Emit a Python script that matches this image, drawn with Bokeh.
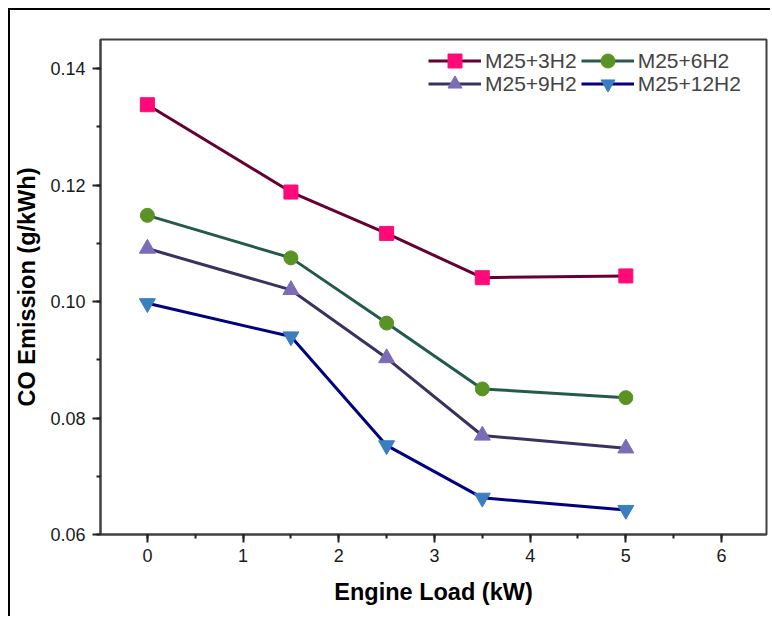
from bokeh.plotting import figure
from bokeh.models import Range1d, FixedTicker, Legend, LegendItem, CustomJSTickFormatter
from bokeh.embed import file_html
from bokeh.resources import INLINE

# ---- data ----
load_kw = [0, 1.5, 2.5, 3.5, 5]
series_names = ["M25+3H2", "M25+6H2", "M25+9H2", "M25+12H2"]
co_3h2 = [0.1338, 0.1188, 0.1117, 0.1041, 0.1044]
co_6h2 = [0.1148, 0.1075, 0.0963, 0.0850, 0.0835]
co_9h2 = [0.1091, 0.1020, 0.0903, 0.0770, 0.0748]
co_12h2 = [0.0997, 0.0940, 0.0753, 0.0663, 0.0642]
x_ticks = [0, 1, 2, 3, 4, 5, 6]
y_ticks = [0.06, 0.08, 0.10, 0.12, 0.14]

FONT = "Liberation Sans"
AXIS_COL = "#404040"

p = figure(width=762, height=608, output_backend="svg", toolbar_location=None,
           x_range=Range1d(-0.49, 6.47), y_range=Range1d(0.06, 0.145),
           min_border_left=90, min_border_right=6, min_border_top=29, min_border_bottom=84)
p.styles = {"margin-left": "8px", "margin-top": "8px",
            "border-left": "2px solid black", "border-top": "2px solid black"}

p.grid.visible = False
p.outline_line_color = AXIS_COL
p.outline_line_width = 2
p.background_fill_color = "white"
p.border_fill_color = "white"

p.xaxis.ticker = FixedTicker(ticks=x_ticks, minor_ticks=[-0.5 + 0.5 * i for i in range(15)])
p.yaxis.ticker = FixedTicker(ticks=y_ticks, minor_ticks=[0.06 + 0.01 * i for i in range(9)])
p.yaxis.formatter = CustomJSTickFormatter(code="return tick.toFixed(2);")

for ax in (p.xaxis[0], p.yaxis[0]):
    ax.axis_line_color = AXIS_COL
    ax.axis_line_width = 2
    ax.major_tick_line_color = "#202020"
    ax.major_tick_line_width = 2
    ax.minor_tick_line_color = "#202020"
    ax.minor_tick_line_width = 2
    ax.major_tick_in = 0
    ax.major_tick_out = 8
    ax.minor_tick_in = 0
    ax.minor_tick_out = 4
    ax.major_label_text_font = FONT
    ax.major_label_text_font_size = "18px"
    ax.major_label_text_color = "#1a1a1a"
    ax.axis_label_text_font = FONT
    ax.axis_label_text_font_size = "23.5px"
    ax.axis_label_text_font_style = "bold"
    ax.axis_label_text_color = "black"

p.xaxis.axis_label = "Engine Load (kW)"
p.yaxis.axis_label = "CO Emission (g/kWh)"
p.xaxis.major_label_standoff = 6
p.yaxis.major_label_standoff = 7
p.xaxis.axis_label_standoff = 14
p.yaxis.axis_label_standoff = 7

series = [co_3h2, co_6h2, co_9h2, co_12h2]
line_cols = ["#660033", "#235A4C", "#3C3060", "#000080"]
mark_cols = ["#FF0A78", "#5B9224", "#7B6CB8", "#3A7EBF"]
markers = ["square", "circle", "triangle", "inverted_triangle"]
sizes = [14, 14, 16, 16]

items = {}
for name, ys, lc, mc, mk, sz in zip(series_names, series, line_cols, mark_cols, markers, sizes):
    r1 = p.line(load_kw, ys, line_color=lc, line_width=3)
    r2 = p.scatter(load_kw, ys, marker=mk, size=sz, fill_color=mc, line_color=mc)
    items[name] = LegendItem(label=name, renderers=[r1, r2])

# two legend rows: 3H2 6H2 / 9H2 12H2
legend_rows = [["M25+3H2", "M25+6H2"], ["M25+9H2", "M25+12H2"]]
row_locations = [(328, 456), (328, 433)]
for row, loc in zip(legend_rows, row_locations):
    lg = Legend(items=[items[n] for n in row], location=loc, orientation="horizontal",
                label_text_font=FONT, label_text_font_size="21px",
                glyph_width=53, glyph_height=35, label_height=35, label_width=20,
                label_standoff=4, spacing=4, padding=2, margin=0,
                border_line_color=None, background_fill_alpha=0)
    p.add_layout(lg)

open("out.html", "w").write(file_html(p, INLINE))
